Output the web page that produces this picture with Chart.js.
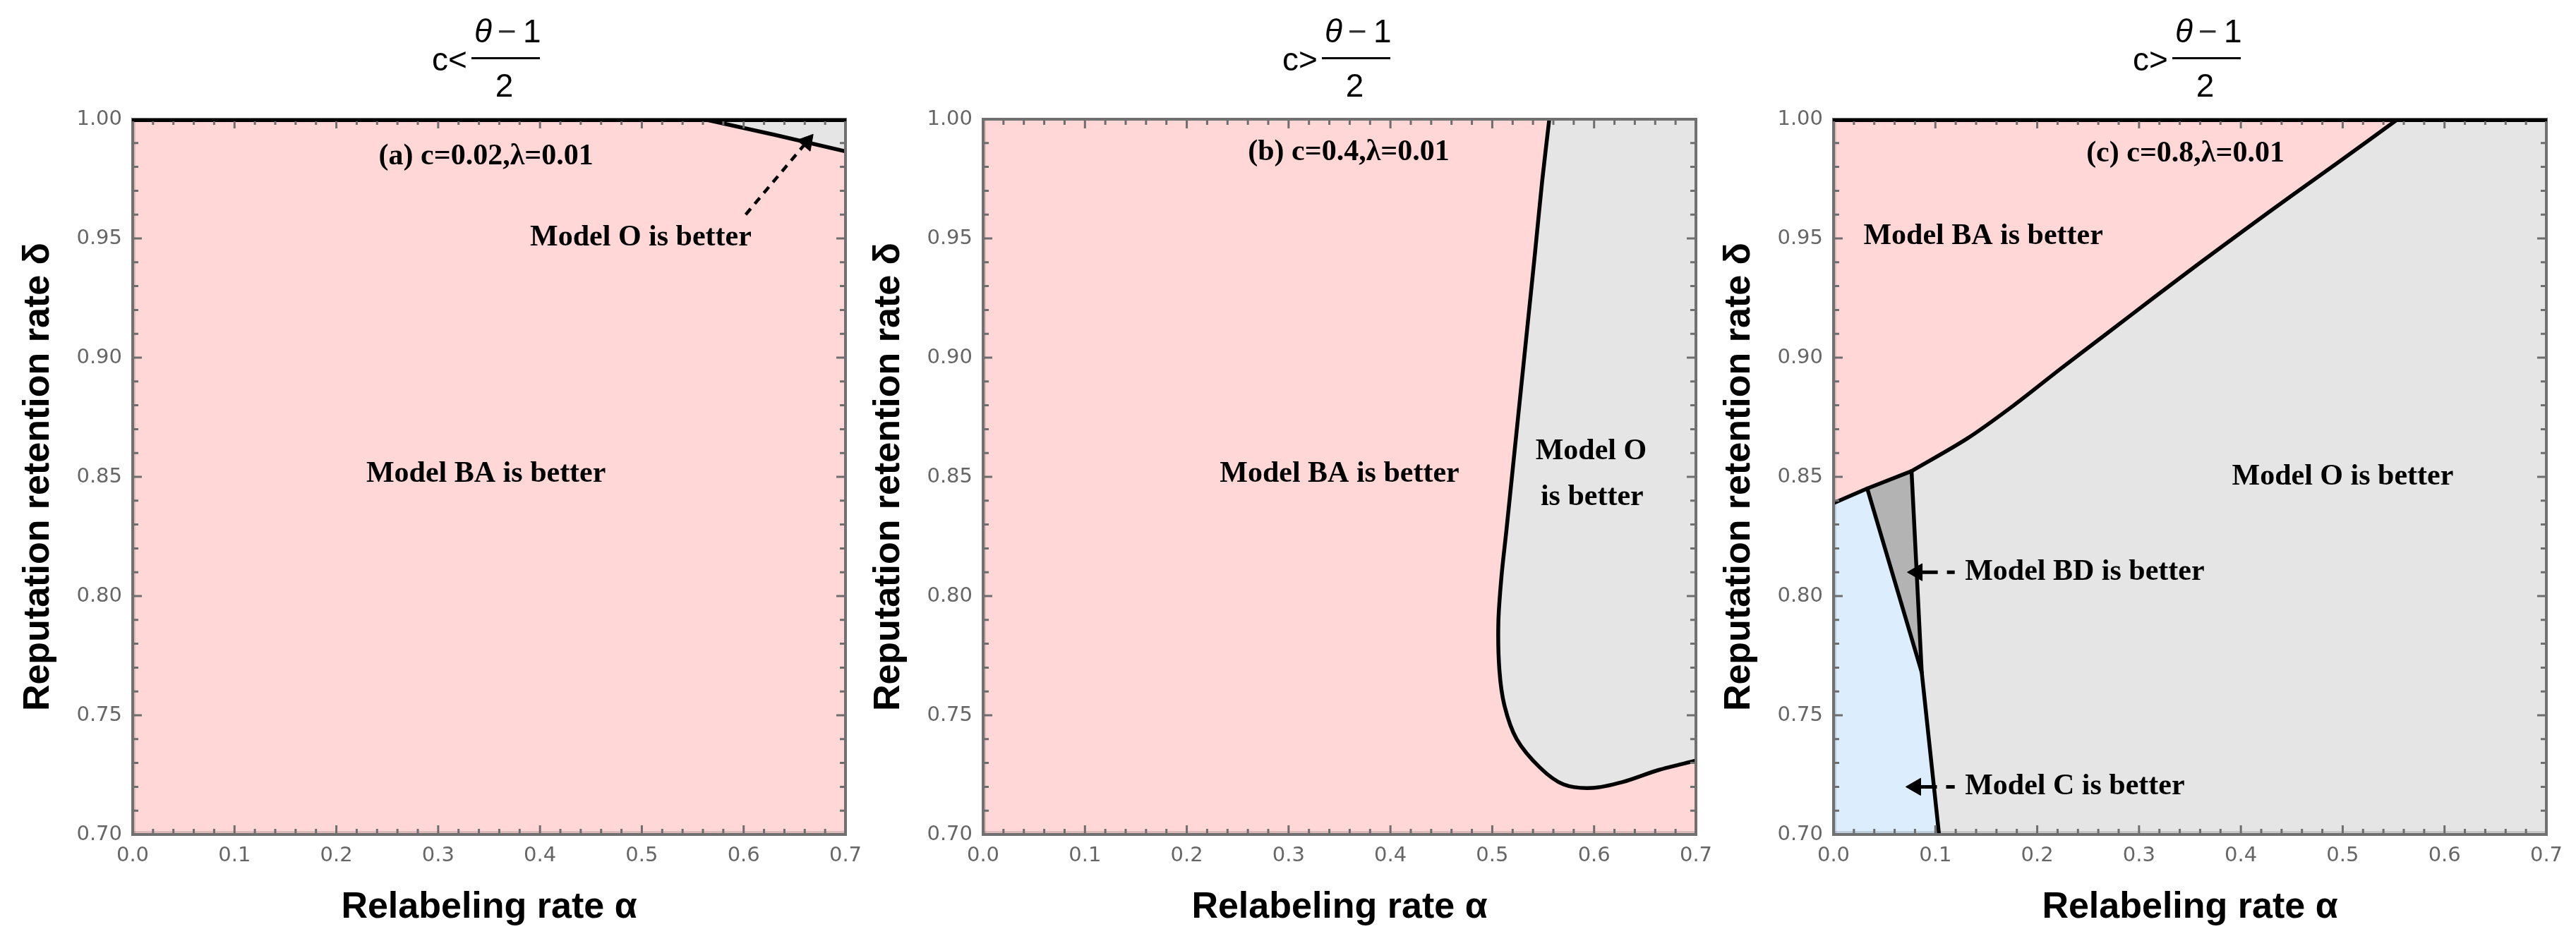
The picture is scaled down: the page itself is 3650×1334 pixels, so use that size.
<!DOCTYPE html>
<html>
<head>
<meta charset="utf-8">
<script src="https://cdn.jsdelivr.net/npm/chart.js@4.4.1/dist/chart.umd.min.js"></script>
<style>
html,body{margin:0;padding:0;background:#fff;width:3650px;height:1334px;overflow:hidden;}
canvas{position:absolute;top:0;}
</style>
</head>
<body>
<canvas id="ca" width="1300" height="1334" style="left:0px"></canvas>
<canvas id="cb" width="1300" height="1334" style="left:1205px"></canvas>
<canvas id="cc" width="1240" height="1334" style="left:2410px"></canvas>
<script>
// ---------------- data ----------------
const alphaRange = [0.0, 0.7];
const deltaRange = [0.70, 1.00];
const xTickValues = [0.0, 0.1, 0.2, 0.3, 0.4, 0.5, 0.6, 0.7];
const yTickValues = [0.70, 0.75, 0.80, 0.85, 0.90, 0.95, 1.00];
const xAxisTitle = 'Relabeling rate α';
const yAxisTitle = 'Reputation retention rate δ';

// (a) c=0.02, λ=0.01 : boundary BA / O
const aLineAlpha = [0.561, 0.630, 0.700];
const aLineDelta = [1.000, 0.9935, 0.9865];
const aArrowAlpha = [0.602, 0.662];
const aArrowDelta = [0.960, 0.9905];
const aArrowHead = [0.662, 0.9905];

// (b) c=0.4, λ=0.01 : boundary BA / O
const bLineAlpha = [0.556, 0.549, 0.542, 0.535, 0.528, 0.521, 0.514, 0.509, 0.506, 0.507, 0.512, 0.524, 0.547, 0.570, 0.598, 0.628, 0.663, 0.700];
const bLineDelta = [1.000, 0.974, 0.944, 0.915, 0.886, 0.857, 0.828, 0.808, 0.789, 0.769, 0.754, 0.740, 0.728, 0.721, 0.7195, 0.722, 0.727, 0.731];

// (c) c=0.8, λ=0.01 : boundaries
const cLowerAlpha = [0.000, 0.0331, 0.0766];
const cLowerDelta = [0.839, 0.8451, 0.8524];
const cCurveAlpha = [0.0766, 0.131, 0.177, 0.222, 0.268, 0.314, 0.359, 0.405, 0.450, 0.496, 0.554];
const cCurveDelta = [0.8524, 0.866, 0.880, 0.895, 0.910, 0.925, 0.9395, 0.954, 0.968, 0.982, 1.000];
const cBDLeftAlpha = [0.0331, 0.0866];
const cBDLeftDelta = [0.8451, 0.768];
const cRightAlpha = [0.0766, 0.0866, 0.1036];
const cRightDelta = [0.8524, 0.768, 0.700];
const cArrowBDAlpha = [0.0760, 0.119];
const cArrowBDDelta = [0.810, 0.810];
const cArrowBDHead = [0.0822, 0.810];
const cArrowCAlpha = [0.0745, 0.119];
const cArrowCDelta = [0.720, 0.720];
const cArrowCHead = [0.0807, 0.720];

// annotation texts
const aTexts = [
  {t: '(a) c=0.02,λ=0.01', x: 0.347, y: 0.9843},
  {t: 'Model O is better', x: 0.499, y: 0.9503},
  {t: 'Model BA is better', x: 0.347, y: 0.851}
];
const bTexts = [
  {t: '(b) c=0.4,λ=0.01', x: 0.359, y: 0.986},
  {t: 'Model BA is better', x: 0.350, y: 0.851},
  {t: 'Model O', x: 0.597, y: 0.8605},
  {t: 'is better', x: 0.598, y: 0.8415}
];
const cTexts = [
  {t: '(c) c=0.8,λ=0.01', x: 0.3455, y: 0.9854},
  {t: 'Model BA is better', x: 0.147, y: 0.9508},
  {t: 'Model O is better', x: 0.500, y: 0.850},
  {t: 'Model BD is better', x: 0.129, y: 0.810, align: 'left'},
  {t: 'Model C is better', x: 0.129, y: 0.720, align: 'left'}
];

// ---------------- styles ----------------
const PINK = '#ffd7d7', GRAY = '#e5e5e5', BLUE = '#dcedfd', DARK = '#b3b3b3';

function pts(ax, ay) { return ax.map((a, i) => ({x: a, y: ay[i]})); }
function area(data, color) {
  return {data, showLine: true, fill: 'shape', backgroundColor: color, borderWidth: 0, borderColor: 'rgba(0,0,0,0)', pointRadius: 0, tension: 0};
}
function boundary(data, tension) {
  return {data, showLine: true, fill: false, borderColor: '#000', borderWidth: 5.5, pointRadius: 0, tension: tension || 0, borderJoinStyle: 'round', borderCapStyle: 'round'};
}
function shaft(data, dash, w) {
  return {data, showLine: true, fill: false, borderColor: '#000', borderWidth: w, borderDash: dash, pointRadius: 0, tension: 0};
}
function head(p, rot, r) {
  return {data: [{x: p[0], y: p[1]}], showLine: false, pointStyle: 'triangle', pointRadius: r, rotation: rot, backgroundColor: '#000', borderColor: '#000', borderWidth: 1};
}
const fullRect = pts([alphaRange[0], alphaRange[1], alphaRange[1], alphaRange[0]], [deltaRange[0], deltaRange[0], deltaRange[1], deltaRange[1]]);

// ---------------- plugins ----------------
const framePlugin = {
  id: 'frame',
  afterDatasetsDraw(chart, args, opts) {
    const {ctx, chartArea: {left, right, top, bottom}, scales: {x, y}} = chart;
    ctx.save();
    ctx.fillStyle = 'rgba(0,0,0,0.13)';
    ctx.fillRect(left, bottom - 5, right - left, 5);
    ctx.fillRect(left, top, 4, bottom - top);
    if (opts.topLine) {
      ctx.fillStyle = '#000';
      ctx.fillRect(left, top, right - left, 4);
    }
    ctx.strokeStyle = '#6e6e6e';
    ctx.lineWidth = 3;
    ctx.beginPath();
    for (let i = 0; i <= 35; i++) {
      const v = alphaRange[0] + i * 0.02;
      const p = x.getPixelForValue(v);
      const L = (i % 5 === 0) ? 13 : 8;
      ctx.moveTo(p, bottom); ctx.lineTo(p, bottom - L);
      ctx.moveTo(p, top); ctx.lineTo(p, top + L);
    }
    for (let i = 0; i <= 30; i++) {
      const v = deltaRange[0] + i * 0.01;
      const p = y.getPixelForValue(v);
      const L = (i % 5 === 0) ? 13 : 8;
      ctx.moveTo(left, p); ctx.lineTo(left + L, p);
      ctx.moveTo(right, p); ctx.lineTo(right - L, p);
    }
    ctx.stroke();
    ctx.lineWidth = 4;
    ctx.strokeStyle = '#707070';
    ctx.strokeRect(left, top, right - left, bottom - top);
    if (opts.topLine) {
      ctx.fillStyle = '#000';
      ctx.fillRect(left - 1, top - 1, right - left + 2, 4);
    }
    ctx.restore();
  }
};

const textPlugin = {
  id: 'texts',
  afterDraw(chart, args, opts) {
    const {ctx, chartArea: {left, right}, scales: {x, y}} = chart;
    ctx.save();
    ctx.fillStyle = '#000';
    ctx.font = 'bold 42px "Liberation Serif", "Times New Roman", serif';
    ctx.textBaseline = 'middle';
    (opts.items || []).forEach(it => {
      ctx.textAlign = it.align || 'center';
      ctx.fillText(it.t, x.getPixelForValue(it.x), y.getPixelForValue(it.y));
    });
    // heading: c < (θ-1)/2
    const cx = (left + right) / 2;
    ctx.textBaseline = 'alphabetic';
    ctx.textAlign = 'left';
    ctx.font = '46px "Liberation Sans", Arial, sans-serif';
    ctx.fillText('c' + opts.sign, cx - 81, 100);
    ctx.fillRect(cx - 25, 81, 97, 3);
    ctx.font = 'italic 46px "Liberation Sans", Arial, sans-serif';
    ctx.fillText('θ', cx - 21, 60);
    ctx.font = '46px "Liberation Sans", Arial, sans-serif';
    ctx.fillStyle = '#333';
    ctx.fillText('−', cx + 12, 60);
    ctx.fillStyle = '#000';
    ctx.fillText('1', cx + 48, 60);
    ctx.textAlign = 'center';
    ctx.fillText('2', cx + 21.5, 137);
    ctx.restore();
  }
};

// ---------------- chart factory ----------------
function makePanel(id, rightPad, datasets, items, sign, topLine) {
  const tickFont = {family: '"DejaVu Sans", sans-serif', size: 29};
  const titleFont = {family: '"Liberation Sans", Arial, sans-serif', size: 52, weight: 'bold'};
  return new Chart(document.getElementById(id), {
    type: 'scatter',
    data: {datasets},
    plugins: [framePlugin, textPlugin],
    options: {
      responsive: false,
      animation: false,
      devicePixelRatio: 1,
      layout: {padding: {left: 0, right: rightPad, top: 169, bottom: 0}},
      plugins: {
        legend: {display: false},
        tooltip: {enabled: false},
        frame: {topLine},
        texts: {items, sign}
      },
      scales: {
        x: {
          type: 'linear', position: 'bottom', min: alphaRange[0], max: alphaRange[1],
          afterBuildTicks(s) { s.ticks = xTickValues.map(v => ({value: v})); },
          ticks: {callback: v => Number(v).toFixed(1), font: tickFont, color: '#666', padding: 13, maxRotation: 0, autoSkip: false},
          grid: {display: false, drawTicks: false},
          border: {display: false},
          title: {display: true, text: xAxisTitle, font: titleFont, color: '#000', padding: {top: 0, bottom: 16}},
          afterFit(s) { s.height = 151; s.paddingLeft = 0; s.paddingRight = 0; }
        },
        y: {
          type: 'linear', position: 'left', min: deltaRange[0], max: deltaRange[1],
          afterBuildTicks(s) { s.ticks = yTickValues.map(v => ({value: v})); },
          ticks: {callback: v => Number(v).toFixed(2), font: tickFont, color: '#666', padding: 15, autoSkip: false},
          grid: {display: false, drawTicks: false},
          border: {display: false},
          title: {display: true, text: yAxisTitle, font: titleFont, color: '#000', padding: {top: 23, bottom: 0}},
          afterFit(s) { s.width = 188; s.paddingTop = 0; s.paddingBottom = 0; }
        }
      }
    }
  });
}

// (a)
const aLine = pts(aLineAlpha, aLineDelta);
makePanel('ca', 102, [
  head(aArrowHead, 40, 14),
  shaft(pts(aArrowAlpha, aArrowDelta), [11, 9], 4.5),
  boundary(aLine, 0),
  area(aLine.concat([{x: alphaRange[1], y: deltaRange[1]}]), GRAY),
  area(fullRect, PINK)
], aTexts, '<', true);

// (b)
const bLine = pts(bLineAlpha, bLineDelta);
makePanel('cb', 102, [
  boundary(bLine, 0.3),
  area(bLine.concat([{x: alphaRange[1], y: deltaRange[1]}]), GRAY),
  area(fullRect, PINK)
], bTexts, '>', false);

// (c)
const cLower = pts(cLowerAlpha, cLowerDelta);
const cCurve = pts(cCurveAlpha, cCurveDelta);
const cBDLeft = pts(cBDLeftAlpha, cBDLeftDelta);
const cRight = pts(cRightAlpha, cRightDelta);
const cBluePoly = [{x: alphaRange[0], y: deltaRange[0]}, cLower[0], cLower[1], cBDLeft[1], cRight[2]];
const cDarkPoly = [cLower[1], cLower[2], cRight[1]];
const cGrayPoly = cCurve.concat([{x: alphaRange[1], y: deltaRange[1]}, {x: alphaRange[1], y: deltaRange[0]}, cRight[2], cRight[1]]);
makePanel('cc', 42, [
  head(cArrowBDHead, 270, 14),
  shaft(pts(cArrowBDAlpha, cArrowBDDelta), [38, 13, 16, 300], 5),
  head(cArrowCHead, 270, 14),
  shaft(pts(cArrowCAlpha, cArrowCDelta), [39, 13, 16, 300], 5),
  boundary(cLower, 0),
  boundary(cCurve, 0.3),
  boundary(cBDLeft, 0),
  boundary(cRight, 0),
  area(cGrayPoly, GRAY),
  area(cDarkPoly, DARK),
  area(cBluePoly, BLUE),
  area(fullRect, PINK)
], cTexts, '>', true);
</script>
</body>
</html>
